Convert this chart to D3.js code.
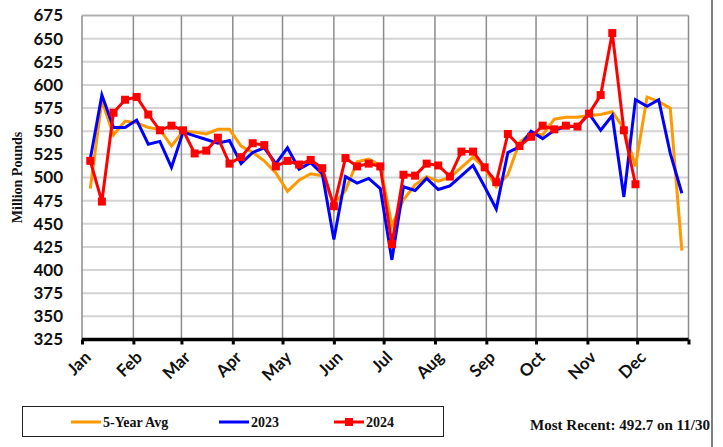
<!DOCTYPE html>
<html>
<head>
<meta charset="utf-8">
<script src="https://cdn.jsdelivr.net/npm/d3@7"></script>
<style>
  html, body { margin: 0; padding: 0; background: #fff; }
  svg { display: block; }
</style>
</head>
<body>
<svg id="chart" width="723" height="447"></svg>
<script>
// ---- Data ----
const monthLabels = ["Jan","Feb","Mar","Apr","May","Jun","Jul","Aug","Sep","Oct","Nov","Dec"];
const yTicks = [325,350,375,400,425,450,475,500,525,550,575,600,625,650,675];
// week-ending dates (Saturdays of 2024)
const weekEnding = d3.range(52).map(i => new Date(Date.UTC(2024, 0, 6 + 7 * i)));
const avg5 = [488,583,546,561,559,554,552,534,550,549,547,552,552,534,527,518,505,485,497,504,502,471,486,517,520,513,448,476,492,501,496,500,511,522,510,490,503,538,548,546,563,565,565,567,568,571,553,512,587,582,575,421];
const y2023 = [520,589,554,554,562,536,539,511,549,545,541,537,540,515,527,532,515,532,509,516,504,433,501,494,499,488,411,490,486,499,487,491,502,513,490,466,527,533,550,542,551,555,555,569,551,567,479,584,577,584,526,483];
const y2024 = [518,474,570,584,587,568,551,556,551,526,529,543,515,522,537,535,512,518,514,519,510,469,521,512,515,512,428,503,502,515,513,501,528,528,511,495,547,534,544,556,552,556,555,569,589,656,551,492.7];
const seriesNames = ["5-Year Avg","2023","2024"];
const seriesColors = ["#FF9900","#0000FF","#FF0000"];
const note = "Most Recent: 492.7 on 11/30";

// ---- Layout ----
const svg = d3.select("#chart");
const L = 82, R = 688.5, T = 15.5, B = 339.5;

const x = d3.scaleUtc()
  .domain([new Date(Date.UTC(2024,0,1)), new Date(Date.UTC(2025,0,1))])
  .range([L, R]);
const y = d3.scaleLinear().domain([325, 675]).range([B, T]);

const monthStarts = d3.utcMonth.range(new Date(Date.UTC(2024,0,1)), new Date(Date.UTC(2025,0,2)));

// horizontal gridlines
svg.append("g").selectAll("line").data(yTicks.slice(1)).join("line")
  .attr("x1", L).attr("x2", R)
  .attr("y1", d => y(d)).attr("y2", d => y(d))
  .attr("stroke", "#d4d4d4").attr("stroke-width", 2);

// vertical month gridlines
svg.append("g").selectAll("line").data(monthStarts).join("line")
  .attr("x1", d => x(d)).attr("x2", d => x(d))
  .attr("y1", T).attr("y2", B)
  .attr("stroke", "#8c8c8c").attr("stroke-width", 1.5);

// top border
svg.append("line").attr("x1", L).attr("x2", R).attr("y1", T).attr("y2", T)
  .attr("stroke", "#b0b0b0").attr("stroke-width", 1.5);

// y axis
const yAxis = d3.axisLeft(y).tickValues(yTicks).tickSize(0).tickPadding(19);
const gy = svg.append("g").attr("transform", `translate(${L},0)`).call(yAxis);
gy.select(".domain").remove();
gy.selectAll("text")
  .attr("font-family", "Lato, 'Open Sans', sans-serif")
  .attr("font-weight", "bold").attr("font-size", "17px").attr("fill", "#111");

// x axis
const xAxis = d3.axisBottom(x).tickValues(monthStarts).tickSize(5).tickFormat("");
const gx = svg.append("g").attr("transform", `translate(0,${B})`).call(xAxis);
gx.select(".domain").attr("stroke", "#000").attr("stroke-width", 3.5).attr("d", `M${L},0H${R}`);
gx.selectAll(".tick line").attr("stroke", "#000").attr("stroke-width", 3);

// month labels
svg.append("g").selectAll("text").data(monthStarts.slice(0,12)).join("text")
  .attr("transform", d => `translate(${x(d) + 10},${B + 19}) rotate(-45)`)
  .attr("text-anchor", "end")
  .attr("font-family", "Lato, 'Open Sans', sans-serif")
  .attr("font-weight", "bold").attr("font-size", "17px").attr("fill", "#111")
  .text((d, i) => monthLabels[i]);

// y title
svg.append("text")
  .attr("transform", `translate(22,${(T + B) / 2}) rotate(-90)`)
  .attr("text-anchor", "middle")
  .attr("font-family", "'Liberation Serif', 'DejaVu Serif', serif")
  .attr("font-weight", "bold").attr("font-size", "14px").attr("fill", "#111")
  .text("Million Pounds");

// lines
const line = d3.line().x(d => x(d[0])).y(d => y(d[1]));
const sets = [avg5, y2023, y2024];
sets.forEach((vals, si) => {
  const pts = vals.map((v, i) => [weekEnding[i], v]);
  svg.append("path").datum(pts)
    .attr("fill", "none").attr("stroke", seriesColors[si])
    .attr("stroke-width", 3).attr("stroke-linejoin", "miter")
    .attr("d", line);
});
// 2024 markers
svg.append("g").selectAll("rect").data(y2024).join("rect")
  .attr("x", (d, i) => x(weekEnding[i]) - 4)
  .attr("y", d => y(d) - 4)
  .attr("width", 8).attr("height", 8)
  .attr("fill", "#FF0000");

// right frame line
svg.append("line").attr("x1", 712).attr("x2", 712).attr("y1", 0).attr("y2", 447)
  .attr("stroke", "#7f7f7f").attr("stroke-width", 2);

// legend
const lg = svg.append("g");
lg.append("rect").attr("x", 22.5).attr("y", 406.5).attr("width", 421).attr("height", 30)
  .attr("fill", "#fff").attr("stroke", "#222").attr("stroke-width", 1);
const legX = [71, 219, 334];
seriesNames.forEach((n, i) => {
  lg.append("line").attr("x1", legX[i]).attr("x2", legX[i] + 30)
    .attr("y1", 422).attr("y2", 422)
    .attr("stroke", seriesColors[i]).attr("stroke-width", 3);
  if (i === 2) {
    lg.append("rect").attr("x", legX[i] + 11).attr("y", 418).attr("width", 8).attr("height", 8)
      .attr("fill", seriesColors[i]);
  }
  lg.append("text").attr("x", legX[i] + 32).attr("y", 427)
    .attr("font-family", "'Liberation Serif', 'DejaVu Serif', serif")
    .attr("font-weight", "bold").attr("font-size", "14px").attr("fill", "#111")
    .text(n);
});

svg.append("text").attr("x", 710).attr("y", 430).attr("text-anchor", "end")
  .attr("font-family", "'Liberation Serif', 'DejaVu Serif', serif")
  .attr("font-weight", "bold").attr("font-size", "14px").attr("fill", "#111")
  .attr("textLength", 180).attr("lengthAdjust", "spacingAndGlyphs")
  .text(note);
</script>
</body>
</html>
